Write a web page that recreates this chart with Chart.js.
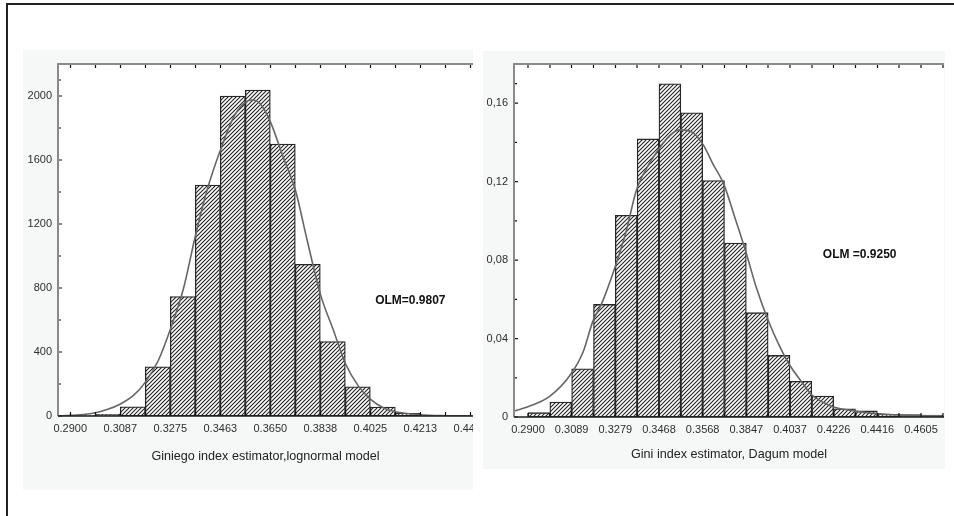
<!DOCTYPE html>
<html>
<head>
<meta charset="utf-8">
<script src="https://cdn.jsdelivr.net/npm/chart.js@4.4.0/dist/chart.umd.min.js"></script>
<style>
  html, body { margin: 0; padding: 0; background: #fff; }
  body { width: 954px; height: 516px; position: relative; overflow: hidden; }
  .frame-top { position: absolute; left: 6px; top: 3px; width: 948px; height: 2px; background: #222; }
  .frame-left { position: absolute; left: 6px; top: 3px; width: 2px; height: 513px; background: #222; }
  .panel { position: absolute; background: #f6f7f7; }
  #leftPanel { left: 23px; top: 50px; width: 450px; height: 440px; }
  #rightPanel { left: 483px; top: 51px; width: 462px; height: 418px; }
  canvas { display: block; }
</style>
</head>
<body>
<div class="frame-top"></div>
<div class="frame-left"></div>
<div class="panel" id="leftPanel"><canvas id="lognormalChart" width="450" height="440"></canvas></div>
<div class="panel" id="rightPanel"><canvas id="dagumChart" width="462" height="418"></canvas></div>
<script>
// Lognormal model (left panel)
const lnBinCenters = [0.2946875, 0.3040625, 0.3134375, 0.3228125, 0.3321875, 0.3415625, 0.3509375, 0.3603125,
                      0.3696875, 0.3790625, 0.3884375, 0.3978125, 0.4071875, 0.4165625, 0.4259375, 0.4353125];
const lnCounts = [3, 10, 58, 308, 746, 1444, 2000, 2037, 1700, 948, 465, 183, 56, 17, 3, 1];
const lnCurveX = [0.2854, 0.2900, 0.2950, 0.2994, 0.3038, 0.3088, 0.3138, 0.3181, 0.3231, 0.3275, 0.3325, 0.3369,
                  0.3413, 0.3463, 0.3513, 0.3556, 0.3581, 0.3613, 0.3650, 0.3700, 0.3744, 0.3788, 0.3838, 0.3888,
                  0.3931, 0.3981, 0.4025, 0.4075, 0.4119, 0.4213, 0.4306, 0.4408];
const lnCurveY = [1, 4, 9, 20, 40, 75, 130, 210, 350, 540, 800, 1125,
                  1412, 1662, 1870, 1960, 1975, 1950, 1840, 1610, 1412, 1100, 760, 530,
                  330, 185, 105, 50, 27, 8, 2, 0];
const lnXTicks = [0.29, 0.30875, 0.3275, 0.34625, 0.365, 0.38375, 0.4025, 0.42125, 0.44];
const lnXLabels = ['0.2900', '0.3087', '0.3275', '0.3463', '0.3650', '0.3838', '0.4025', '0.4213', '0.4400'];
const lnYTicks = [0, 400, 800, 1200, 1600, 2000];
const lnYLabels = ['0', '400', '800', '1200', '1600', '2000'];

// Dagum model (right panel)
const dgBinCenters = [0.294736, 0.304208, 0.31368, 0.323152, 0.332624, 0.342096, 0.351568, 0.36104, 0.370512, 0.379984,
                      0.389456, 0.398928, 0.4084, 0.417872, 0.427344, 0.436816, 0.446288, 0.45576, 0.465232];
const dgDensity = [0.0022, 0.0076, 0.0246, 0.0574, 0.1028, 0.1418, 0.1699, 0.1551, 0.1206, 0.0887,
                   0.0532, 0.0314, 0.0182, 0.0107, 0.0042, 0.0031, 0.0014, 0.0012, 0.0010];
const dgCurveX = [0.28393, 0.29, 0.2994, 0.30808, 0.31386, 0.3182, 0.32181, 0.32774, 0.33266, 0.337, 0.34206, 0.3464,
                  0.35146, 0.35609, 0.36086, 0.36592, 0.37026, 0.37503, 0.37966, 0.38457, 0.38906, 0.39397, 0.39918,
                  0.40352, 0.4093, 0.41292, 0.41798, 0.42232, 0.43172, 0.44112, 0.45052, 0.46932];
const dgCurveY = [0.0030, 0.0052, 0.0105, 0.0210, 0.0330, 0.0490, 0.0574, 0.0764, 0.0950, 0.1155, 0.1280, 0.1360,
                  0.1435, 0.1464, 0.1455, 0.1390, 0.1290, 0.1185, 0.1020, 0.0840, 0.0660, 0.0500, 0.0360,
                  0.0265, 0.0170, 0.0115, 0.0075, 0.0052, 0.0030, 0.0017, 0.0010, 0.0005];
const dgXTicks = [0.29, 0.308944, 0.327888, 0.346832, 0.365776, 0.38472, 0.403664, 0.422608, 0.441552, 0.460496];
const dgXLabels = ['0.2900', '0.3089', '0.3279', '0.3468', '0.3568', '0.3847', '0.4037', '0.4226', '0.4416', '0.4605'];
const dgYTicks = [0, 0.04, 0.08, 0.12, 0.16];
const dgYLabels = ['0', '0,04', '0,08', '0,12', '0,16'];

const FONT = '"Liberation Sans", Arial, sans-serif';

function hatchPattern() {
    const c = document.createElement('canvas');
    c.width = 4; c.height = 4;
    const g = c.getContext('2d');
    g.fillStyle = '#fff';
    g.fillRect(0, 0, 4, 4);
    g.strokeStyle = '#222';
    g.lineWidth = 1.1;
    g.beginPath();
    g.moveTo(0, 4); g.lineTo(4, 0);
    g.moveTo(-1, 1); g.lineTo(1, -1);
    g.moveTo(3, 5); g.lineTo(5, 3);
    g.stroke();
    return g.createPattern(c, 'repeat');
}

// white plot area, axis lines, inward tick marks and the OLM note
const framePlugin = {
    id: 'frame',
    beforeDraw(chart) {
        const { ctx, chartArea: a } = chart;
        ctx.save();
        ctx.fillStyle = '#fff';
        ctx.fillRect(a.left, a.top, a.right - a.left, a.bottom - a.top);
        ctx.restore();
    },
    afterDatasetsDraw(chart, args, opts) {
        const { ctx, chartArea: a, scales: { x, y } } = chart;
        ctx.save();

        // bin edges from the bar elements
        const edges = [];
        chart.getDatasetMeta(1).data.forEach(bar => {
            edges.push(bar.x - bar.width / 2, bar.x + bar.width / 2);
        });
        const uniq = [...new Set(edges.map(e => Math.round(e * 2) / 2))];

        ctx.strokeStyle = '#111';
        ctx.lineWidth = 1.2;
        ctx.beginPath();
        uniq.forEach(px => {
            if (px < a.left + 2 || px > a.right + 1) return;
            ctx.moveTo(px, a.top); ctx.lineTo(px, a.top + 4);
            ctx.moveTo(px, a.bottom); ctx.lineTo(px, a.bottom - 4);
        });
        // y ticks (major + minor halfway)
        const yt = opts.yTicks;
        yt.forEach((v, i) => {
            const py = y.getPixelForValue(v);
            ctx.moveTo(a.left, py); ctx.lineTo(a.left + 4, py);
            const next = i + 1 < yt.length ? yt[i + 1] : y.max;
            const mid = y.getPixelForValue((v + next) / 2);
            if (mid > a.top + 2) { ctx.moveTo(a.left, mid); ctx.lineTo(a.left + 3, mid); }
        });
        ctx.stroke();

        ctx.strokeStyle = '#8a8a8a';
        ctx.lineWidth = 2;
        ctx.beginPath();
        ctx.moveTo(a.left, a.bottom);
        ctx.lineTo(a.left, a.top);
        ctx.lineTo(a.right, a.top);
        ctx.stroke();

        ctx.strokeStyle = '#1e1e1e';
        ctx.lineWidth = 1.6;
        ctx.beginPath();
        ctx.moveTo(a.left, a.bottom);
        ctx.lineTo(a.right, a.bottom);
        ctx.stroke();

        ctx.fillStyle = '#111';
        ctx.font = 'bold 12px ' + FONT;
        ctx.textAlign = 'center';
        ctx.textBaseline = 'middle';
        ctx.fillText(opts.note, x.getPixelForValue(opts.noteX), y.getPixelForValue(opts.noteY));
        ctx.restore();
    }
};

function makeHistogram(canvasId, cfg) {
    const ctx = document.getElementById(canvasId).getContext('2d');
    return new Chart(ctx, {
        type: 'bar',
        data: {
            datasets: [{
                type: 'line',
                data: cfg.curveX.map((v, i) => ({ x: v, y: cfg.curveY[i] })),
                borderColor: '#666',
                borderWidth: 1.6,
                pointRadius: 0,
                cubicInterpolationMode: 'monotone',
                fill: false,
                order: 0
            }, {
                type: 'bar',
                data: cfg.centers.map((v, i) => ({ x: v, y: cfg.values[i] })),
                backgroundColor: hatchPattern(),
                borderColor: '#262626',
                borderWidth: 1.3,
                borderSkipped: false,
                barPercentage: 1,
                categoryPercentage: 1,
                grouped: false,
                order: 1
            }]
        },
        options: {
            responsive: false,
            animation: false,
            layout: { padding: { left: 0, top: cfg.padTop, right: cfg.padRight, bottom: cfg.padBottom } },
            scales: {
                x: {
                    type: 'linear',
                    min: cfg.xMin,
                    max: cfg.xMax,
                    offset: false,
                    grid: { display: false, drawTicks: false },
                    border: { display: false },
                    afterBuildTicks: s => { s.ticks = cfg.xTicks.map(v => ({ value: v })); },
                    afterFit: s => { s.height = cfg.xAxisHeight; s.paddingLeft = 0; s.paddingRight = 0; },
                    ticks: {
                        autoSkip: false, maxRotation: 0, minRotation: 0, padding: 6,
                        color: '#2e2e2e', font: { size: 11, family: FONT },
                        callback: (v, i) => cfg.xLabels[i]
                    },
                    title: { display: true, text: cfg.xTitle, color: '#222', font: { size: 12.6, family: FONT }, padding: 0 }
                },
                y: {
                    min: 0,
                    max: cfg.yMax,
                    grid: { display: false, drawTicks: false },
                    border: { display: false },
                    afterBuildTicks: s => { s.ticks = cfg.yTicks.map(v => ({ value: v })); },
                    afterFit: s => { s.width = cfg.yAxisWidth; s.paddingTop = 0; s.paddingBottom = 0; },
                    ticks: {
                        padding: 6, color: '#2e2e2e', font: { size: 11, family: FONT },
                        callback: (v, i) => cfg.yLabels[i]
                    }
                }
            },
            plugins: {
                legend: { display: false },
                tooltip: { enabled: false },
                frame: { note: cfg.note, noteX: cfg.noteX, noteY: cfg.noteY, yTicks: cfg.yTicks }
            }
        },
        plugins: [framePlugin]
    });
}

makeHistogram('lognormalChart', {
    centers: lnBinCenters, values: lnCounts,
    curveX: lnCurveX, curveY: lnCurveY,
    xTicks: lnXTicks, xLabels: lnXLabels,
    yTicks: lnYTicks, yLabels: lnYLabels,
    xMin: 0.2854, xMax: 0.4410, yMax: 2200,
    xTitle: 'Giniego index estimator,lognormal model',
    note: 'OLM=0.9807', noteX: 0.4175, noteY: 720,
    padTop: 14, padRight: 0, padBottom: 26, xAxisHeight: 48, yAxisWidth: 35
});

makeHistogram('dagumChart', {
    centers: dgBinCenters, values: dgDensity,
    curveX: dgCurveX, curveY: dgCurveY,
    xTicks: dgXTicks, xLabels: dgXLabels,
    yTicks: dgYTicks, yLabels: dgYLabels,
    xMin: 0.28393, xMax: 0.47048, yMax: 0.18,
    xTitle: 'Gini index estimator, Dagum model',
    note: 'OLM =0.9250', noteX: 0.4339, noteY: 0.0829,
    padTop: 13, padRight: 1, padBottom: 7, xAxisHeight: 45, yAxisWidth: 31
});
</script>
</body>
</html>
